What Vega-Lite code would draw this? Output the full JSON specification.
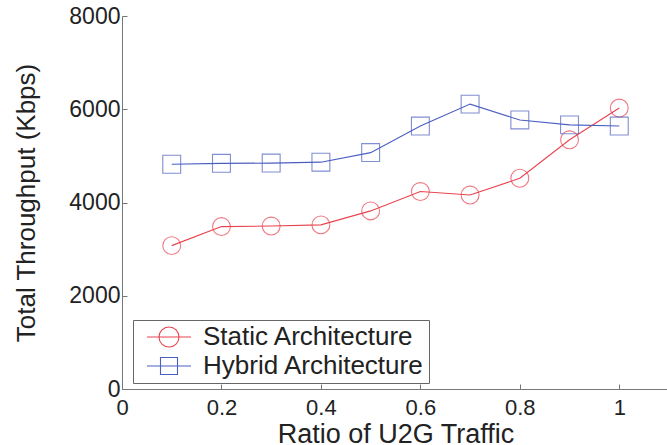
{
  "$schema": "https://vega.github.io/schema/vega-lite/v6.json",
  "width": 547,
  "height": 373,
  "autosize": "none",
  "padding": {"left": 122, "top": 16, "right": 0, "bottom": 56},
  "background": "white",
  "config": {
    "view": {"stroke": null},
    "font": "Liberation Sans",
    "axis": {
      "grid": false,
      "domainColor": "#777",
      "tickColor": "#777",
      "labelColor": "#222",
      "titleColor": "#222",
      "labelFont": "Liberation Sans",
      "titleFont": "Liberation Sans",
      "titleFontWeight": "normal"
    },
    "legend": {
      "orient": "none",
      "legendX": 11,
      "legendY": 304,
      "strokeColor": "#666",
      "fillColor": "white",
      "padding": 4,
      "rowPadding": 3,
      "symbolSize": 400,
      "symbolStrokeWidth": 1.1,
      "symbolOffset": 19,
      "labelOffset": 21,
      "labelLimit": 400,
      "labelFontSize": 26,
      "labelFont": "Liberation Sans",
      "labelColor": "#222"
    }
  },
  "data": {
    "values": [
      {"ratio": 0.1, "throughput": 3075, "series": "Static Architecture"},
      {"ratio": 0.2, "throughput": 3483, "series": "Static Architecture"},
      {"ratio": 0.3, "throughput": 3495, "series": "Static Architecture"},
      {"ratio": 0.4, "throughput": 3520, "series": "Static Architecture"},
      {"ratio": 0.5, "throughput": 3820, "series": "Static Architecture"},
      {"ratio": 0.6, "throughput": 4235, "series": "Static Architecture"},
      {"ratio": 0.7, "throughput": 4160, "series": "Static Architecture"},
      {"ratio": 0.8, "throughput": 4520, "series": "Static Architecture"},
      {"ratio": 0.9, "throughput": 5345, "series": "Static Architecture"},
      {"ratio": 1.0, "throughput": 6025, "series": "Static Architecture"},
      {"ratio": 0.1, "throughput": 4820, "series": "Hybrid Architecture"},
      {"ratio": 0.2, "throughput": 4840, "series": "Hybrid Architecture"},
      {"ratio": 0.3, "throughput": 4845, "series": "Hybrid Architecture"},
      {"ratio": 0.4, "throughput": 4865, "series": "Hybrid Architecture"},
      {"ratio": 0.5, "throughput": 5070, "series": "Hybrid Architecture"},
      {"ratio": 0.6, "throughput": 5640, "series": "Hybrid Architecture"},
      {"ratio": 0.7, "throughput": 6110, "series": "Hybrid Architecture"},
      {"ratio": 0.8, "throughput": 5770, "series": "Hybrid Architecture"},
      {"ratio": 0.9, "throughput": 5665, "series": "Hybrid Architecture"},
      {"ratio": 1.0, "throughput": 5640, "series": "Hybrid Architecture"}
    ]
  },
  "encoding": {
    "x": {
      "field": "ratio",
      "type": "quantitative",
      "scale": {"domain": [0, 1.1], "nice": false, "zero": false},
      "axis": {
        "title": "Ratio of U2G Traffic",
        "values": [0, 0.2, 0.4, 0.6, 0.8, 1],
        "format": "~g",
        "labelFontSize": 22,
        "titleFontSize": 27,
        "tickSize": -5,
        "labelPadding": 13,
        "titlePadding": 3,
        "labelFlush": false
      }
    },
    "y": {
      "field": "throughput",
      "type": "quantitative",
      "scale": {"domain": [0, 8000], "nice": false},
      "axis": {
        "title": "Total Throughput (Kbps)",
        "values": [0, 2000, 4000, 6000, 8000],
        "format": "d",
        "labelFontSize": 23,
        "titleFontSize": 26,
        "tickSize": -5,
        "labelPadding": 7,
        "titlePadding": 29,
        "labelFlush": false
      }
    },
    "color": {
      "field": "series",
      "type": "nominal",
      "scale": {"domain": ["Static Architecture", "Hybrid Architecture"], "range": ["#e8434e", "#4b5fc0"]},
      "legend": {
        "title": null,
        "encode": {
          "symbols": {
            "update": {
              "shape": {"signal": "datum.value === 'Static Architecture' ? 'M-2.2,0H2.2M-1,0A1,1,0,1,1,1,0A1,1,0,1,1,-1,0' : 'M-2.2,0H2.2M-0.85,-0.85H0.85V0.85H-0.85Z'"},
              "fill": {"value": "transparent"}
            }
          }
        }
      }
    }
  },
  "layer": [
    {
      "mark": {"type": "line", "strokeWidth": 1.1},
      "encoding": {
        "order": {"field": "ratio"}
      }
    },
    {
      "transform": [{"filter": "datum.series === 'Static Architecture'"}],
      "mark": {"type": "point", "shape": "circle", "filled": false, "size": 320, "strokeWidth": 1.1},
      "encoding": {}
    },
    {
      "transform": [{"filter": "datum.series === 'Hybrid Architecture'"}],
      "mark": {"type": "point", "shape": "square", "filled": false, "size": 320, "strokeWidth": 1.1},
      "encoding": {}
    }
  ]
}
